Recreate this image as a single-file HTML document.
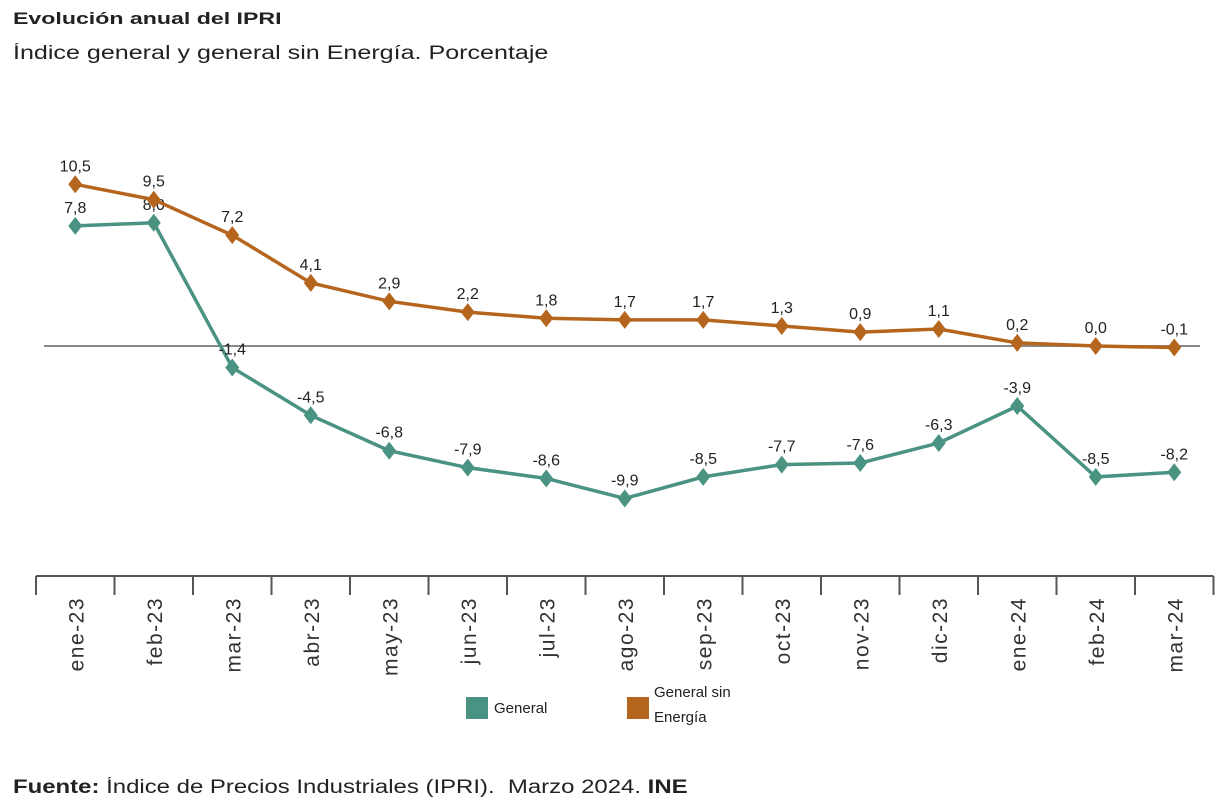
<!DOCTYPE html>
<html><head><meta charset="utf-8"><style>
body{margin:0;width:1229px;height:812px;background:#fff;font-family:"Liberation Sans",Arial,sans-serif;overflow:hidden;position:relative}
.t,.s,.f{position:absolute;left:13px;transform-origin:0 0;white-space:nowrap;color:#222}
.t{top:9px;font-size:17px;font-weight:bold;transform:scaleX(1.36)}
.s{top:43px;font-size:19px;transform:scaleX(1.32)}
.f{top:777px;font-size:19px;transform:scaleX(1.26)}
</style></head><body>
<div class="t">Evolución anual del IPRI</div>
<div class="s">Índice general y general sin Energía. Porcentaje</div>
<svg id="c" width="1229" height="812" style="position:absolute;left:0;top:0"></svg>
<div class="f"><b>Fuente:</b> Índice de Precios Industriales (IPRI).&nbsp; Marzo 2024. <b>INE</b></div>
<script>
const categories=["ene-23","feb-23","mar-23","abr-23","may-23","jun-23","jul-23","ago-23","sep-23","oct-23","nov-23","dic-23","ene-24","feb-24","mar-24"];
const general=[7.8,8.0,-1.4,-4.5,-6.8,-7.9,-8.6,-9.9,-8.5,-7.7,-7.6,-6.3,-3.9,-8.5,-8.2];
const sinEnergia=[10.5,9.5,7.2,4.1,2.9,2.2,1.8,1.7,1.7,1.3,0.9,1.1,0.2,0.0,-0.1];
const NS="http://www.w3.org/2000/svg",svg=document.getElementById('c');
const step=78.5,x0=36;
const x=i=>x0+step*(i+0.5);
const y=v=>346-v*15.4;
function el(t,a,p){const e=document.createElementNS(NS,t);for(const k in a)e.setAttribute(k,a[k]);(p||svg).appendChild(e);return e;}
const fmt=v=>v.toFixed(1).replace('.',',');
const z=el('line',{x1:44,x2:1200,y1:y(0),y2:y(0),stroke:'#888','stroke-width':2});


const ax=el('line',{x1:x0,x2:x0+step*15,y1:576,y2:576,stroke:'#555','stroke-width':2});


for(let i=0;i<=15;i++){
  const tk=el('line',{x1:x0+step*i,x2:x0+step*i,y1:576,y2:595,stroke:'#555','stroke-width':2});
  
  
}
categories.forEach((c,i)=>{
  const t=el('text',{x:0,y:0,transform:`translate(${x(i)+8},597) rotate(-90)`,'text-anchor':'end','font-size':21,fill:'#333','letter-spacing':'1.5'});
  t.textContent=c;
  
  
});
function series(vals,color,name){
  const pts=vals.map((v,i)=>x(i)+','+y(v)).join(' ');
  const l=el('polyline',{points:pts,fill:'none',stroke:color,'stroke-width':3.5});
  
  
  vals.forEach((v,i)=>{
    const cx=x(i),cy=y(v);
    const m=el('polygon',{points:`${cx},${cy-9} ${cx+7},${cy} ${cx},${cy+9} ${cx-7},${cy}`,fill:color});
    
    
    const t=el('text',{x:cx,y:cy-13,'text-anchor':'middle','font-size':16,fill:'#222'});
    t.textContent=fmt(v);
    
    
  });
}
series(general,'#4a9383','general');
series(sinEnergia,'#b5651d','sin-energia');
const r1=el('rect',{x:466,y:697,width:22,height:22,fill:'#4a9383'});


const t1=el('text',{x:494,y:713,'font-size':15,fill:'#222'});t1.textContent='General';


const r2=el('rect',{x:627,y:697,width:22,height:22,fill:'#b5651d'});


const t2=el('text',{x:654,y:697,'font-size':15,fill:'#222'});t2.textContent='General sin';


const t3=el('text',{x:654,y:722,'font-size':15,fill:'#222'});t3.textContent='Energía';


</script>
</body></html>
